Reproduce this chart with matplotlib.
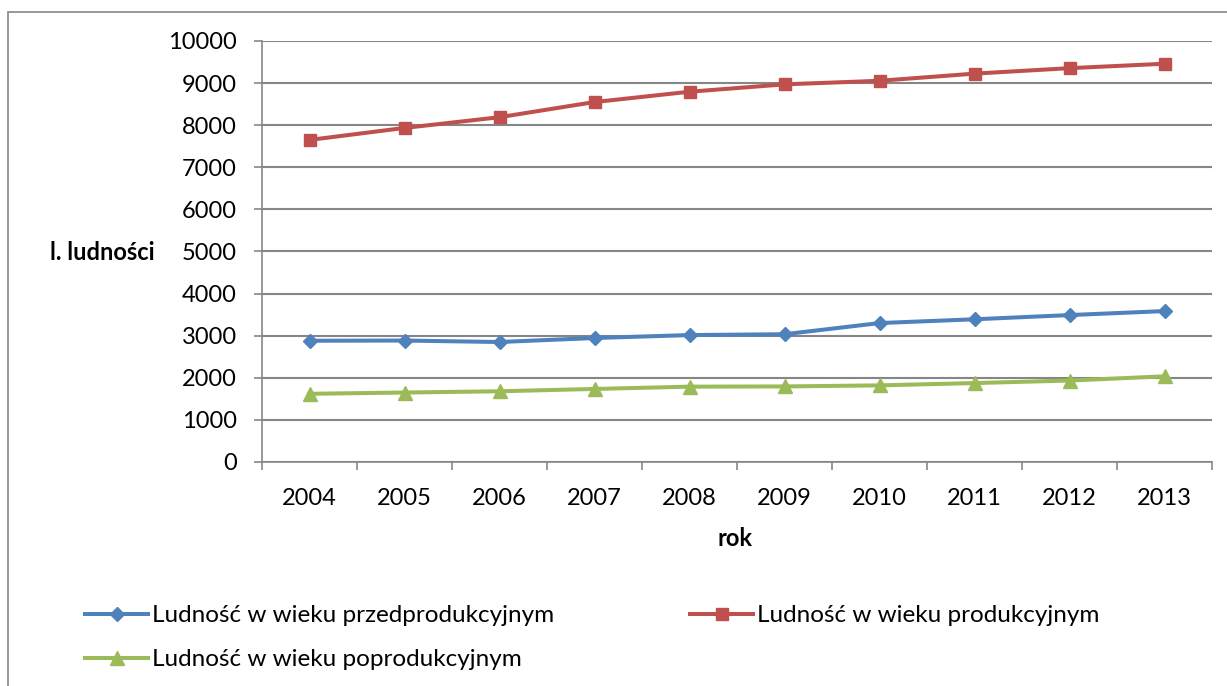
import matplotlib.pyplot as plt
from matplotlib.patches import Rectangle

plt.rcParams['font.family'] = ['Lato', 'DejaVu Sans']

# data
years = ['2004', '2005', '2006', '2007', '2008', '2009', '2010', '2011', '2012', '2013']
przedprod = [2880, 2885, 2850, 2945, 3015, 3035, 3300, 3390, 3490, 3585]
prod = [7650, 7935, 8190, 8550, 8795, 8970, 9055, 9225, 9355, 9460]
poprod = [1620, 1650, 1680, 1735, 1790, 1795, 1820, 1875, 1935, 2035]
y_ticks = [0, 1000, 2000, 3000, 4000, 5000, 6000, 7000, 8000, 9000, 10000]

blue = '#4F81BD'
red = '#C0504D'
green = '#9BBB59'
gray = '#868686'
fs = 17

fig = plt.figure(figsize=(12.27, 6.86), dpi=100)
# outer chart border
fig.patches.append(Rectangle((8/1227, -0.05), 1.2, 1 - 12/686 + 0.05, transform=fig.transFigure,
                             fill=False, edgecolor=gray, linewidth=1.2))

ax = fig.add_axes([262/1227, 1 - 462/686, (1212 - 262)/1227, (462 - 41)/686])
x = list(range(len(years)))

ax.plot(x, przedprod, color=blue, lw=2.9, marker='D', ms=7.5, label='Ludność w wieku przedprodukcyjnym')
ax.plot(x, prod, color=red, lw=2.9, marker='s', ms=8.5, label='Ludność w wieku produkcyjnym')
ax.plot(x, poprod, color=green, lw=2.9, marker='^', ms=9.5, label='Ludność w wieku poprodukcyjnym')

ax.set_xlim(-0.5, len(years) - 0.5)
ax.set_ylim(0, 10000)
ax.set_yticks(y_ticks)
ax.set_yticklabels([str(v) for v in y_ticks], fontsize=fs)
ax.set_xticks(x)
ax.set_xticklabels(years, fontsize=fs)
ax.set_xticks([i - 0.5 for i in range(len(years) + 1)], minor=True)
ax.tick_params(axis='x', which='major', length=0, pad=19)
ax.tick_params(axis='x', which='minor', length=6, color=gray, width=1.2)
ax.tick_params(axis='y', length=6, color=gray, width=1.2, pad=12)

ax.yaxis.grid(True, color=gray, lw=1.5)
ax.set_axisbelow(True)
for s in ['top', 'right']:
    ax.spines[s].set_visible(False)
for s in ['left', 'bottom']:
    ax.spines[s].set_color(gray)
    ax.spines[s].set_linewidth(1.2)

fig.text(102/1227, 1 - 253/686, 'l. ludności', fontsize=fs, fontweight='bold', ha='center', va='center')
fig.text(735/1227, 1 - 538/686, 'rok', fontsize=fs, fontweight='bold', ha='center', va='center')

h = ax.get_legend_handles_labels()[0]
handles = [h[0], h[2], h[1]]
labels = [hh.get_label() for hh in handles]
fig.legend(handles, labels, ncol=2, loc='upper left', bbox_to_anchor=(85/1227, 1 - 605/686),
           frameon=False, fontsize=17.5, handlelength=2.6, handletextpad=0.15,
           columnspacing=5.6, labelspacing=0.95, borderpad=0, borderaxespad=0)

fig.savefig('out.png', dpi=100)
